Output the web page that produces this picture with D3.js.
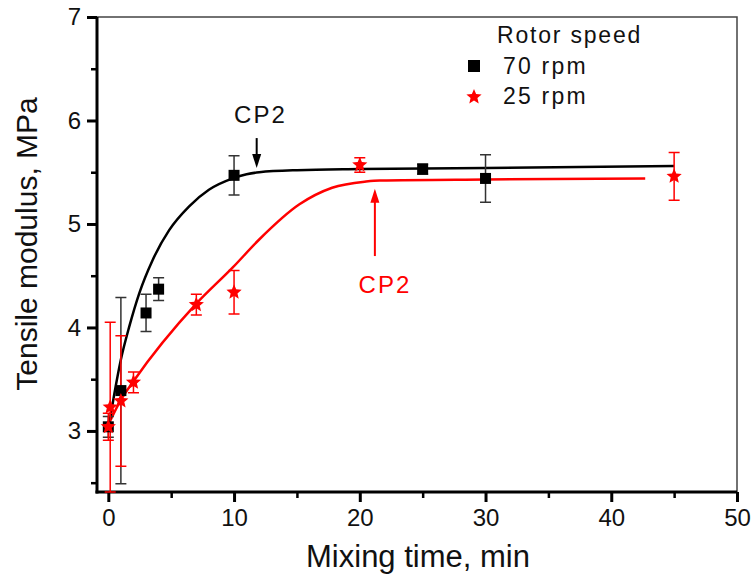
<!DOCTYPE html>
<html>
<head>
<meta charset="utf-8">
<script src="https://cdn.jsdelivr.net/npm/d3@7"></script>
<style>
  body { margin: 0; background: #fff; }
  svg text { font-family: "Liberation Sans", Arial, sans-serif; }
</style>
</head>
<body>
<svg id="chart" width="752" height="580"></svg>
<script>
// measured points, 70 rpm
const timeFast = [0, 1, 3, 4, 10, 25, 30];
const modFast = [3.04, 3.39, 4.14, 4.37, 5.47, 5.53, 5.44];
const errFast = [0.10, 0.90, 0.18, 0.11, 0.19, 0.05, 0.23];

// measured points, 25 rpm
const timeSlow = [0, 0.15, 1, 2, 7, 10, 20, 45];
const modSlow = [3.04, 3.23, 3.29, 3.47, 4.22, 4.34, 5.57, 5.46];
const errSlow = [0.13, 0.82, 0.63, 0.10, 0.10, 0.21, 0.07, 0.23];

// fitted curves
const fitFastX = [0, 0.48, 1.0, 1.67, 2.46, 3.52, 4.84, 6.43, 8.0, 9.9, 11.0, 12.0, 15, 20, 30, 45];
const fitFastY = [3.02, 3.36, 3.69, 4.01, 4.33, 4.65, 4.94, 5.17, 5.33, 5.44, 5.48, 5.50, 5.52, 5.53, 5.54, 5.56];
const fitSlowX = [0, 1, 2, 7, 9.9, 12, 15.2, 17.8, 20.5, 21.6, 30, 42.7];
const fitSlowY = [3.06, 3.30, 3.48, 4.23, 4.58, 4.85, 5.19, 5.35, 5.41, 5.42, 5.43, 5.44];

const xTicks = [0, 10, 20, 30, 40, 50];
const xMinor = [5, 15, 25, 35, 45];
const yTicks = [3, 4, 5, 6, 7];
const yMinor = [2.5, 3.5, 4.5, 5.5, 6.5];

const svg = d3.select("#chart");
const plotL = 97, plotR = 737, plotT = 17, plotB = 492;

let x = d3.scaleLinear().domain([-0.9, 50]).range([plotL, plotR]);
let y = d3.scaleLinear().domain([2.41, 7]).range([plotB, plotT]);

// five point star with fatter arms than d3.symbolStar
function starPath(r) {
    let inner = r * 0.45, pts = [];
    for (let i = 0; i < 10; i++) {
        let a = -Math.PI / 2 + i * Math.PI / 5, rr = i % 2 ? inner : r;
        pts.push([rr * Math.cos(a), rr * Math.sin(a)]);
    }
    return "M" + pts.map(p => p[0].toFixed(2) + "," + p[1].toFixed(2)).join("L") + "Z";
}

// top and right frame
svg.append("path")
    .attr("d", `M${plotL},${plotT}H${plotR}V${plotB}`)
    .attr("fill", "none")
    .attr("stroke", "#444")
    .attr("stroke-width", 1.5);

// minor ticks
let xMinorAxis = d3.axisBottom(x).tickValues(xMinor).tickSize(6).tickFormat("");
svg.append("g").attr("transform", `translate(0,${plotB})`).call(xMinorAxis)
    .call(g => g.select(".domain").remove())
    .selectAll("line").attr("stroke-width", 2.5);
let yMinorAxis = d3.axisLeft(y).tickValues(yMinor).tickSize(6).tickFormat("");
svg.append("g").attr("transform", `translate(${plotL},0)`).call(yMinorAxis)
    .call(g => g.select(".domain").remove())
    .selectAll("line").attr("stroke-width", 2.5);

// major axes
let xAxis = d3.axisBottom(x).tickValues(xTicks).tickSize(10).tickSizeOuter(0).tickPadding(7)
    .tickFormat(d3.format("d"));
let gx = svg.append("g").attr("transform", `translate(0,${plotB})`).call(xAxis);
let yAxis = d3.axisLeft(y).tickValues(yTicks).tickSize(10).tickSizeOuter(0).tickPadding(6)
    .tickFormat(d3.format("d"));
let gy = svg.append("g").attr("transform", `translate(${plotL},0)`).call(yAxis);

[gx, gy].forEach(g => {
    g.select(".domain").attr("stroke-width", 3).attr("stroke", "#000");
    g.selectAll(".tick line").attr("stroke-width", 3);
    g.selectAll(".tick text")
        .attr("fill", "#111")
        .style("font-size", "24px");
});
gx.select(".domain").attr("d", `M${plotL - 1.5},0H${plotR}`);
gy.select(".domain").attr("d", `M0,${plotB + 1.5}V${plotT}`);

// axis titles
svg.append("text")
    .attr("x", 418).attr("y", 567)
    .attr("text-anchor", "middle")
    .style("font-size", "31px")
    .attr("fill", "#111")
    .text("Mixing time, min");

svg.append("text")
    .attr("transform", "translate(37,244) rotate(-90)")
    .attr("text-anchor", "middle")
    .style("font-size", "30px")
    .attr("fill", "#111")
    .text("Tensile modulus, MPa");

// fitted curves
let line = d3.line().x(d => x(d[0])).y(d => y(d[1])).curve(d3.curveMonotoneX);
svg.append("path")
    .datum(d3.zip(fitSlowX, fitSlowY))
    .attr("d", line)
    .attr("fill", "none").attr("stroke", "#ff0000").attr("stroke-width", 2.5);
svg.append("path")
    .datum(d3.zip(fitFastX, fitFastY))
    .attr("d", line)
    .attr("fill", "none").attr("stroke", "#000").attr("stroke-width", 2.5);

// error bars
function errorBars(xs, ys, es, color) {
    let data = d3.zip(xs, ys, es);
    let g = svg.append("g").attr("stroke", color).attr("stroke-width", 1.5).attr("fill", "none");
    g.selectAll("path").data(data).enter().append("path")
        .attr("d", d => {
            let cx = x(d[0]), y1 = y(d[1] + d[2]), y2 = y(d[1] - d[2]);
            return `M${cx},${y1}V${y2}M${cx - 5.5},${y1}H${cx + 5.5}M${cx - 5.5},${y2}H${cx + 5.5}`;
        });
}
errorBars(timeFast, modFast, errFast, "#333");
errorBars(timeSlow, modSlow, errSlow, "#ff0000");

// markers
svg.append("g").selectAll("rect").data(d3.zip(timeFast, modFast)).enter().append("rect")
    .attr("x", d => x(d[0]) - 5.5)
    .attr("y", d => y(d[1]) - 5.5)
    .attr("width", 11).attr("height", 11)
    .attr("fill", "#000");

svg.append("g").selectAll("path").data(d3.zip(timeSlow, modSlow)).enter().append("path")
    .attr("d", starPath(8))
    .attr("transform", d => `translate(${x(d[0])},${y(d[1])})`)
    .attr("fill", "#ff0000");

// CP2 annotations
function arrow(x0, yTail, yTip, color) {
    let px = x(x0), t = y(yTail), h = y(yTip);
    let dir = h > t ? 1 : -1;
    svg.append("line")
        .attr("x1", px).attr("x2", px)
        .attr("y1", t).attr("y2", h - dir * 10)
        .attr("stroke", color).attr("stroke-width", 2);
    svg.append("path")
        .attr("d", `M${px},${h}L${px - 4.5},${h - dir * 14}L${px + 4.5},${h - dir * 14}Z`)
        .attr("fill", color);
}
arrow(11.8, 5.83, 5.54, "#000");
arrow(21.2, 4.69, 5.34, "#ff0000");

svg.append("text")
    .attr("x", x(12.1)).attr("y", y(5.98))
    .attr("text-anchor", "middle")
    .style("font-size", "24px").style("letter-spacing", "2px")
    .attr("fill", "#111")
    .text("CP2");
svg.append("text")
    .attr("x", x(22.0)).attr("y", y(4.33))
    .attr("text-anchor", "middle")
    .style("font-size", "24px").style("letter-spacing", "2px")
    .attr("fill", "#ff0000")
    .text("CP2");

// legend
let legend = svg.append("g");
legend.append("text")
    .attr("x", 497).attr("y", 43)
    .style("font-size", "23px").style("letter-spacing", "1.8px")
    .attr("fill", "#111")
    .text("Rotor speed");
legend.append("rect")
    .attr("x", 468).attr("y", 60).attr("width", 12).attr("height", 12)
    .attr("fill", "#000");
legend.append("text")
    .attr("x", 503).attr("y", 74)
    .style("font-size", "23px").style("letter-spacing", "2.2px")
    .attr("fill", "#111")
    .text("70 rpm");
legend.append("path")
    .attr("d", starPath(8))
    .attr("transform", "translate(474,97)")
    .attr("fill", "#ff0000");
legend.append("text")
    .attr("x", 503).attr("y", 104)
    .style("font-size", "23px").style("letter-spacing", "2.2px")
    .attr("fill", "#111")
    .text("25 rpm");
</script>
</body>
</html>
